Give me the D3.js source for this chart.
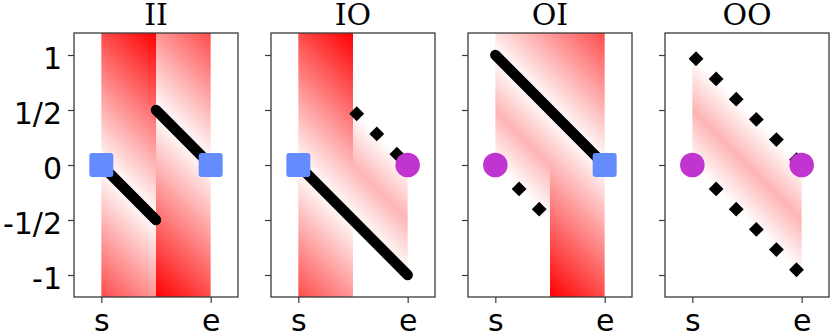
<!DOCTYPE html>
<html>
<head>
<meta charset="utf-8">
<script src="https://cdn.jsdelivr.net/npm/d3@7"></script>
<style>
  body { margin: 0; background: #fff; }
  svg { display: block; }
</style>
</head>
<body>
<svg width="830" height="333"></svg>
<script>
// chart values
var panelTitles = ["II", "IO", "OI", "OO"];
var yTickValues = [1, 0.5, 0, -0.5, -1];
var yTickLabels = ["1", "1/2", "0", "-1/2", "-1"];
var xTickValues = [0, 1];
var xTickLabels = ["s", "e"];
var startMarkers = ["square", "square", "circle", "circle"];
var endMarkers = ["square", "circle", "square", "circle"];

// segments [x0, y0, x1, y1, style]
var segII = [[0, 0, 0.5, -0.5, "solid"], [0.5, 0.5, 1, 0, "solid"]];
var segIO = [[0, 0, 1, -1, "solid"], [0.5, 0.5, 1, 0, "dotted"]];
var segOI = [[0, 1, 1, 0, "solid"], [0, 0, 0.5, -0.5, "dotted"]];
var segOO = [[0, 1, 1, 0, "dotted"], [0, 0, 1, -1, "dotted"]];
var segments = [segII, segIO, segOI, segOO];

// shading of each half, as [u, value] with u = x + y
var shadeAbs0 = [[-1.2, 1.2], [0, 0], [1.7, 1.7]];
var shadeAbs1 = [[-0.7, 1.7], [1, 0], [2.2, 1.2]];
var shadeTentL = [[-1.2, 0], [0, 0], [0.5, 0.5], [1, 0], [1.7, 0]];
var shadeTentR = [[-0.7, 0], [0, 0], [0.5, 0.5], [1, 0], [2.2, 0]];
var shadeTentAbove = [[-1.2, 0], [0, 0], [0.5, 0.5], [1, 0], [1.7, 0.7]];
var shadings = [
    [shadeAbs0, shadeAbs1],
    [shadeAbs0, shadeTentR],
    [shadeTentAbove, shadeAbs1],
    [shadeTentL, shadeTentR]
];
var halves = [[0, 0.5], [0.5, 1]];

var svg = d3.select("svg");
var defs = svg.append("defs");

var panelLeft = 74, panelW = 164, panelStep = 197;
var plotTop = 33, plotBottom = 297;

var y = d3.scaleLinear().domain([-1.2, 1.2]).range([plotBottom, plotTop]);
var color = d3.scaleLinear().domain([0, 1.7]).range(["#ffffff", "#ff0000"]).clamp(true);

panelTitles.forEach(function (title, i) {
    var left = panelLeft + i * panelStep;
    var x = d3.scaleLinear().domain([-0.25, 1.25]).range([left, left + panelW]);
    var g = svg.append("g");

    // shaded halves
    var ax = x(1) - x(0), ay = y(0) - y(1);
    halves.forEach(function (h, j) {
        var stops = shadings[i][j];
        var umin = stops[0][0], umax = stops[stops.length - 1][0];
        var du = umax - umin;
        var lam = du / (1 / (ax * ax) + 1 / (ay * ay));
        var x1 = x(0), y1 = y(umin);
        var id = "grad" + i + "_" + j;
        var grad = defs.append("linearGradient")
            .attr("id", id)
            .attr("gradientUnits", "userSpaceOnUse")
            .attr("x1", x1).attr("y1", y1)
            .attr("x2", x1 + lam / ax).attr("y2", y1 - lam / ay);
        stops.forEach(function (s) {
            grad.append("stop")
                .attr("offset", (s[0] - umin) / du)
                .attr("stop-color", color(s[1]));
        });
        g.append("rect")
            .attr("x", x(h[0]))
            .attr("y", plotTop)
            .attr("width", x(h[1]) - x(h[0]))
            .attr("height", plotBottom - plotTop)
            .attr("fill", "url(#" + id + ")");
    });

    // segments
    segments[i].forEach(function (s) {
        g.append("line")
            .attr("x1", x(s[0])).attr("y1", y(s[1]))
            .attr("x2", x(s[2])).attr("y2", y(s[3]))
            .attr("stroke", "#000")
            .attr("stroke-width", 10.5)
            .attr("stroke-linecap", s[4] == "solid" ? "round" : "butt")
            .attr("stroke-dasharray", s[4] == "dotted" ? "10.5,18" : null);
    });

    // endpoint markers
    [[0, startMarkers[i]], [1, endMarkers[i]]].forEach(function (m) {
        if (m[1] == "square") {
            g.append("rect")
                .attr("x", x(m[0]) - 12).attr("y", y(0) - 12)
                .attr("width", 24).attr("height", 24)
                .attr("rx", 3)
                .attr("fill", "#648cff");
        } else {
            g.append("circle")
                .attr("cx", x(m[0])).attr("cy", y(0))
                .attr("r", 12.3)
                .attr("fill", "#c034d0");
        }
    });

    // frame
    g.append("rect")
        .attr("x", left).attr("y", plotTop)
        .attr("width", panelW).attr("height", plotBottom - plotTop)
        .attr("fill", "none")
        .attr("stroke", "#3a3a3a")
        .attr("stroke-width", 1.3);

    // axes
    var yAxis = d3.axisLeft(y).tickValues(yTickValues).tickSize(6).tickPadding(6)
        .tickFormat(function (d, k) { return i == 0 ? yTickLabels[k] : ""; });
    var xAxis = d3.axisBottom(x).tickValues(xTickValues).tickSize(6).tickPadding(9)
        .tickFormat(function (d, k) { return xTickLabels[k]; });

    var ya = g.append("g").attr("transform", "translate(" + left + ",0)").call(yAxis);
    var xa = g.append("g").attr("transform", "translate(0," + plotBottom + ")").call(xAxis);
    [ya, xa].forEach(function (a) {
        a.select(".domain").remove();
        a.selectAll("line").attr("stroke", "#3a3a3a").attr("stroke-width", 1.2);
        a.selectAll("text")
            .attr("font-family", "DejaVu Sans")
            .attr("font-size", 30)
            .attr("fill", "#000");
    });
    ya.selectAll("text").attr("dy", "0.45em");
    xa.selectAll("text").attr("dy", "0.62em");

    // title
    g.append("text")
        .attr("x", (x.range()[0] + x.range()[1]) / 2)
        .attr("y", 25)
        .attr("text-anchor", "middle")
        .attr("font-family", "DejaVu Serif")
        .attr("font-size", 30)
        .text(title);
});
</script>
</body>
</html>
